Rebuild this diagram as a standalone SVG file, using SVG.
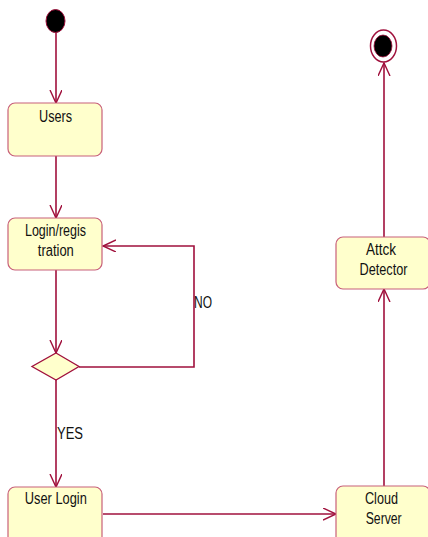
<svg xmlns="http://www.w3.org/2000/svg" width="428" height="537" viewBox="0 0 428 537">
<defs>
<marker id="arr" markerUnits="userSpaceOnUse" markerWidth="16" markerHeight="14" refX="13" refY="6" orient="auto">
<path d="M0,0 L13,6 L0,12" fill="none" stroke="#A0103C" stroke-width="1.4"/>
</marker>
<style>
.box{fill:#FFFFCC;stroke:#C8607A;stroke-width:1.2}
.ln{fill:none;stroke:#A0103C;stroke-width:1.6}
text{font-family:"Liberation Sans",Arial,sans-serif;font-size:16px;fill:#111;text-anchor:middle}
</style>
</defs>
<rect width="428" height="537" fill="#fff"/>
<g id="connectors">
<line class="ln" x1="56" y1="32" x2="56" y2="103" marker-end="url(#arr)"/>
<line class="ln" x1="56" y1="156" x2="56" y2="218" marker-end="url(#arr)"/>
<line class="ln" x1="56" y1="270" x2="56" y2="353" marker-end="url(#arr)"/>
<polyline class="ln" points="79,367 194,367 194,246 103,246" marker-end="url(#arr)"/>
<text x="203" y="308" textLength="18" lengthAdjust="spacingAndGlyphs">NO</text>
<line class="ln" x1="56" y1="379" x2="56" y2="487" marker-end="url(#arr)"/>
<text x="70" y="439" textLength="26" lengthAdjust="spacingAndGlyphs">YES</text>
<line class="ln" x1="103" y1="514" x2="336" y2="514" marker-end="url(#arr)"/>
<line class="ln" x1="384" y1="486" x2="384" y2="289" marker-end="url(#arr)"/>
<line class="ln" x1="384" y1="237" x2="384" y2="63" marker-end="url(#arr)"/>
</g>
<g id="start"><ellipse cx="55.5" cy="21" rx="9.5" ry="11.5" fill="#000" stroke="#A0103C" stroke-width="1"/></g>
<g id="users"><rect class="box" x="8" y="103" width="94" height="53" rx="7"/><text x="55.5" y="121.5" textLength="33" lengthAdjust="spacingAndGlyphs">Users</text></g>
<g id="login"><rect class="box" x="8" y="218" width="94" height="52" rx="7"/><text x="55.5" y="236" textLength="61" lengthAdjust="spacingAndGlyphs">Login/regis</text><text x="55.8" y="255.5" textLength="36" lengthAdjust="spacingAndGlyphs">tration</text></g>
<g id="decision"><polygon points="56,353 79,366.5 56,380 32,366.5" fill="#FFFFCC" stroke="#A0103C" stroke-width="1.3"/></g>
<g id="userlogin"><rect class="box" x="8" y="487" width="94" height="60" rx="7"/><text x="55.8" y="503.5" textLength="62" lengthAdjust="spacingAndGlyphs">User Login</text></g>
<g id="cloud"><rect class="box" x="336" y="486" width="94" height="60" rx="7"/><text x="381.5" y="504" textLength="33" lengthAdjust="spacingAndGlyphs">Cloud</text><text x="383.7" y="523.5" textLength="36" lengthAdjust="spacingAndGlyphs">Server</text></g>
<g id="detector"><rect class="box" x="336" y="237" width="94" height="52" rx="7"/><text x="381" y="255" textLength="30" lengthAdjust="spacingAndGlyphs">Attck</text><text x="383.5" y="274.5" textLength="48" lengthAdjust="spacingAndGlyphs">Detector</text></g>
<g id="end"><ellipse cx="383.5" cy="46" rx="13" ry="16" fill="#fff" stroke="#A0103C" stroke-width="1.5"/><ellipse cx="383" cy="46" rx="9" ry="11" fill="#000" stroke="#A0103C" stroke-width="0.8"/></g>
</svg>
